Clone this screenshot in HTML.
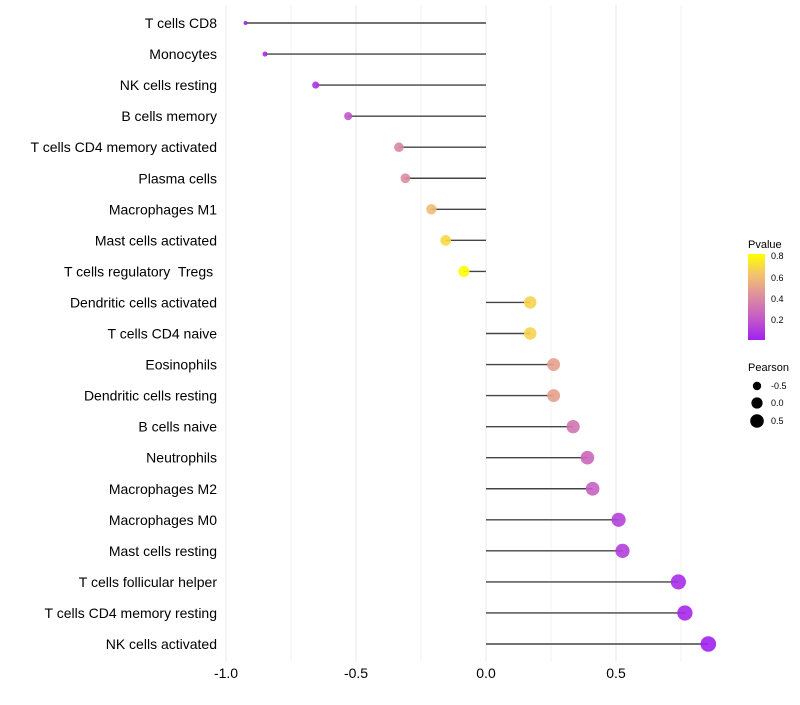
<!DOCTYPE html>
<html><head><meta charset="utf-8"><style>
body{margin:0;background:#fff;font-family:"Liberation Sans",Arial,sans-serif}
text{white-space:pre}
</style></head><body>
<svg id="c" width="800" height="700" xmlns="http://www.w3.org/2000/svg">
<defs><linearGradient id="pg" x1="0" y1="1" x2="0" y2="0">
<stop offset="0" stop-color="#a020f0"/><stop offset="0.25" stop-color="#c45ac8"/><stop offset="0.5" stop-color="#dc8ca0"/><stop offset="0.75" stop-color="#f2c070"/><stop offset="1" stop-color="#ffff00"/>
</linearGradient></defs>
<g id="grid"></g><g id="marks"></g><g id="labels"></g>
<g font-size="11" fill="#000">
<text x="748" y="248">Pvalue</text>
<rect x="748" y="254" width="17" height="86" fill="url(#pg)"/>
<g font-size="9"><text x="771" y="259">0.8</text><text x="771" y="302">0.4</text><text x="771" y="281">0.6</text><text x="771" y="323">0.2</text></g>
<text x="748" y="371">Pearson</text>
<circle cx="757" cy="386" r="4.2" fill="#000"/><circle cx="757" cy="403" r="5.6" fill="#000"/><circle cx="757" cy="421" r="6.8" fill="#000"/>
<g font-size="9"><text x="771" y="389">-0.5</text><text x="771" y="406">0.0</text><text x="771" y="424">0.5</text></g>
</g>
</svg>
<script>
const categories=["T cells CD8","Monocytes","NK cells resting","B cells memory","T cells CD4 memory activated","Plasma cells","Macrophages M1","Mast cells activated","T cells regulatory  Tregs ","Dendritic cells activated","T cells CD4 naive","Eosinophils","Dendritic cells resting","B cells naive","Neutrophils","Macrophages M2","Macrophages M0","Mast cells resting","T cells follicular helper","T cells CD4 memory resting","NK cells activated"];
const pearson=[-0.925,-0.85,-0.655,-0.53,-0.335,-0.31,-0.21,-0.155,-0.085,0.17,0.17,0.26,0.26,0.335,0.39,0.41,0.51,0.525,0.74,0.765,0.855];
const pvalue=[0.02,0.05,0.08,0.2,0.4,0.42,0.6,0.7,0.82,0.68,0.68,0.5,0.5,0.32,0.27,0.24,0.13,0.12,0.06,0.04,0.02];
const xTicks=[-1,-0.5,0,0.5];
const xTickLabels=["-1.0","-0.5","0.0","0.5"];
const NS="http://www.w3.org/2000/svg";
const X=v=>486+v*260;
const Y=i=>23+i*31.05;
const R=v=>Math.sqrt(Math.max(3,33.6+32*v));
const stops=[[0.012,[160,32,240]],[0.215,[196,90,200]],[0.42,[220,140,160]],[0.62,[242,192,112]],[0.82,[255,255,0]]];
function col(p){if(p<=stops[0][0])return `rgb(${stops[0][1]})`;for(let k=1;k<stops.length;k++){if(p<=stops[k][0]){const t=(p-stops[k-1][0])/(stops[k][0]-stops[k-1][0]);const a=stops[k-1][1],b=stops[k][1];return `rgb(${a.map((c,j)=>Math.round(c+(b[j]-c)*t)).join(',')})`;}}return 'rgb(255,255,0)';}
function mk(t,a,p){const e=document.createElementNS(NS,t);for(const k in a)e.setAttribute(k,a[k]);p.appendChild(e);return e;}
const grid=document.getElementById('grid'),marks=document.getElementById('marks'),labels=document.getElementById('labels');
for(let v=-1;v<=0.76;v+=0.25){const g=mk('line',{x1:X(v),x2:X(v),y1:5,y2:662,stroke:'#ebebeb','stroke-width':Math.abs((v*4)%2)<0.01?1.1:0.6},grid);

}
xTicks.forEach((v,i)=>{const t=mk('text',{x:X(v),y:678,'text-anchor':'middle','font-size':14,fill:'#000'},labels);t.textContent=xTickLabels[i];

});
categories.forEach((c,i)=>{const t=mk('text',{x:217,y:Y(i)+5,'text-anchor':'end','font-size':14,fill:'#000'},labels);t.textContent=c;


const l=mk('line',{x1:X(0),x2:X(pearson[i]),y1:Y(i),y2:Y(i),stroke:'#444','stroke-width':1.4},marks);


const d=mk('circle',{cx:X(pearson[i]),cy:Y(i),r:R(pearson[i]),fill:col(pvalue[i]),'fill-opacity':0.9},marks);

});
</script>
</body></html>
